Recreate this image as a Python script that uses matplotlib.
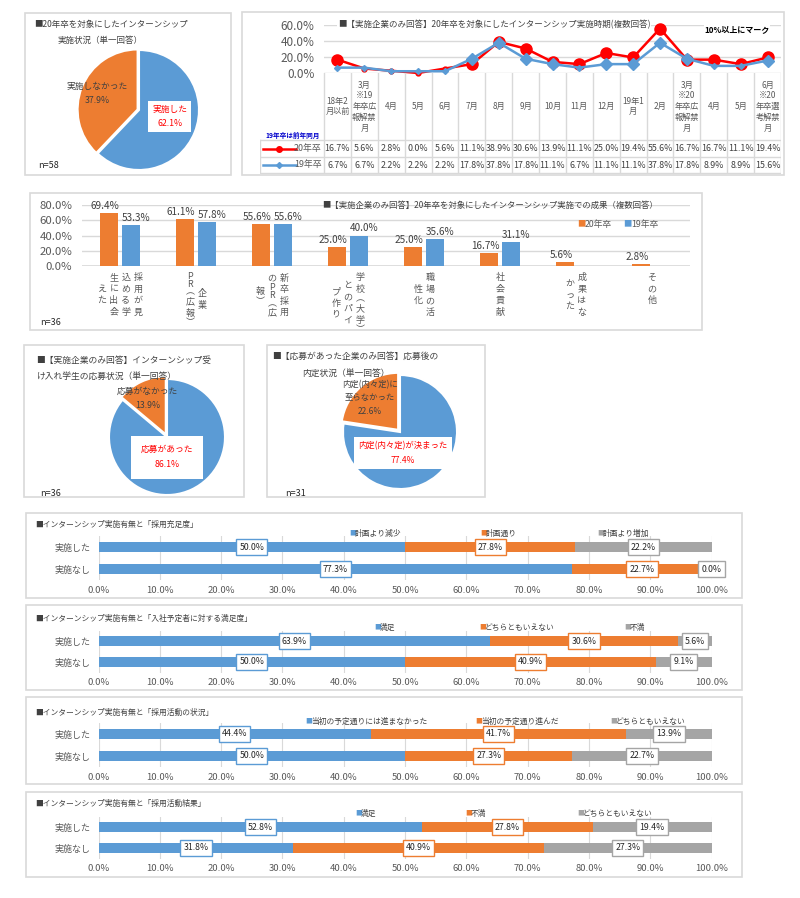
import matplotlib
matplotlib.use('Agg')
import matplotlib.pyplot as plt
from matplotlib.patches import Rectangle
from matplotlib.lines import Line2D
import numpy as np

plt.rcParams['font.family'] = ['Noto Sans CJK JP', 'DejaVu Sans']

# ---------------- data ----------------
pie1_labels = ['実施した', '実施しなかった']
pie1_values = [62.1, 37.9]

months = ['18年2\n月以前', '3月\n※19\n年卒広\n報解禁\n月', '4月', '5月', '6月', '7月', '8月', '9月',
          '10月', '11月', '12月', '19年1\n月', '2月', '3月\n※20\n年卒広\n報解禁\n月', '4月', '5月',
          '6月\n※20\n年卒選\n考解禁\n月']
timing20 = [16.7, 5.6, 2.8, 0.0, 5.6, 11.1, 38.9, 30.6, 13.9, 11.1, 25.0, 19.4, 55.6, 16.7, 16.7, 11.1, 19.4]
timing19 = [6.7, 6.7, 2.2, 2.2, 2.2, 17.8, 37.8, 17.8, 11.1, 6.7, 11.1, 11.1, 37.8, 17.8, 8.9, 8.9, 15.6]
series_names = ['20年卒', '19年卒']

outcome_labels = [['採用が見', '込める学', '生に出会', 'えた'],
                  ['企業', 'PR︵広報︶'],
                  ['新卒採用', 'のPR︵広', '報︶'],
                  ['学校︵大学︶', 'とのパイ', 'プ作り'],
                  ['職場の活', '性化'],
                  ['社会貢献'],
                  ['成果はな', 'かった'],
                  ['その他']]
outcome20 = [69.4, 61.1, 55.6, 25.0, 25.0, 16.7, 5.6, 2.8]
outcome19 = [53.3, 57.8, 55.6, 40.0, 35.6, 31.1, np.nan, np.nan]

pie2_labels = ['応募があった', '応募がなかった']
pie2_values = [86.1, 13.9]
pie3_labels = ['内定(内々定)が決まった', '内定(内々定)に\n至らなかった']
pie3_values = [77.4, 22.6]

row_labels = ['実施した', '実施なし']
s1_title = '■インターンシップ実施有無と「採用充足度」'
s1_series = ['計画より減少', '計画通り', '計画より増加']
s1_done = [50.0, 27.8, 22.2]
s1_none = [77.3, 22.7, 0.0]
s2_title = '■インターンシップ実施有無と「入社予定者に対する満足度」'
s2_series = ['満足', 'どちらともいえない', '不満']
s2_done = [63.9, 30.6, 5.6]
s2_none = [50.0, 40.9, 9.1]
s3_title = '■インターンシップ実施有無と「採用活動の状況」'
s3_series = ['当初の予定通りには進まなかった', '当初の予定通り進んだ', 'どちらともいえない']
s3_done = [44.4, 41.7, 13.9]
s3_none = [50.0, 27.3, 22.7]
s4_title = '■インターンシップ実施有無と「採用活動結果」'
s4_series = ['満足', '不満', 'どちらともいえない']
s4_done = [52.8, 27.8, 19.4]
s4_none = [31.8, 40.9, 27.3]

# ---------------- style ----------------
BLUE = '#5B9BD5'
ORANGE = '#ED7D31'
GRAY = '#A5A5A5'
RED = '#FF0000'
TXT = '#595959'
DARK = '#404040'
GRID = '#D9D9D9'

W, H = 800, 898
fig = plt.figure(figsize=(W / 100, H / 100), dpi=100)
fig.patch.set_facecolor('white')


def box(x0, y0, x1, y1):
    return [x0 / W, 1 - y1 / H, (x1 - x0) / W, (y1 - y0) / H]


def ftext(x, y, s, **kw):
    kw.setdefault('va', 'center')
    return fig.text(x / W, 1 - y / H, s, **kw)


def panel(x0, y0, x1, y1):
    fig.add_artist(Rectangle((x0 / W, 1 - y1 / H), (x1 - x0) / W, (y1 - y0) / H,
                             transform=fig.transFigure, fill=False, ec=GRID, lw=1.2, zorder=0))


# ---------------- pie helper ----------------
def draw_pie(cx, cy, r, values, explode_o):
    half = r * 1.1
    ax = fig.add_axes(box(cx - half, cy - half, cx + half, cy + half))
    ax.pie(values, colors=[BLUE, ORANGE], startangle=90, counterclock=False,
           explode=[0, explode_o], wedgeprops=dict(edgecolor='white', linewidth=1.5))
    ax.set_xlim(-1.1, 1.1)
    ax.set_ylim(-1.1, 1.1)
    ax.set_aspect('equal')
    ax.axis('off')
    return ax


# ======== Panel 1: pie ========
panel(25, 13, 231, 175)
ftext(34, 24, '■20年卒を対象にしたインターンシップ', fontsize=6.1, color=DARK)
ftext(58, 40, '実施状況（単一回答）', fontsize=6.1, color=DARK)
ax = draw_pie(139, 110, 60, pie1_values, 0.025)
ax.text(-0.70, 0.28, f'{pie1_labels[1]}\n{pie1_values[1]:.1f}%', ha='center', va='center',
        fontsize=6.3, color=DARK, linespacing=1.7)
ax.text(0.51, -0.11, f'{pie1_labels[0]}\n{pie1_values[0]:.1f}%', ha='center', va='center',
        fontsize=6.3, color=RED, linespacing=1.7,
        bbox=dict(boxstyle='square,pad=0.45', fc='white', ec='none'))
ftext(38, 166, 'n=58', fontsize=6.5, color='#262626')

# ======== Panel 2: line + table ========
panel(242, 12, 784, 175)
col_w = (781 - 324) / 17.0
axl = fig.add_axes(box(324, 25, 781, 73))
xs = np.arange(len(months))
axl.set_xlim(-0.5, 16.5)
axl.set_ylim(0, 60)
axl.set_yticks([0, 20, 40, 60])
axl.set_yticklabels([f'{v:.1f}%' for v in [0, 20, 40, 60]])
axl.tick_params(axis='y', length=0, pad=7, labelsize=8.5, labelcolor=TXT)
axl.set_xticks([])
axl.grid(axis='y', color=GRID, lw=1)
axl.set_axisbelow(True)
for s in axl.spines.values():
    s.set_visible(False)
t20 = np.array(timing20)
t19 = np.array(timing19)
axl.plot(xs, t20, color=RED, lw=1.8, clip_on=False, zorder=3)
axl.plot(xs[t20 >= 10], t20[t20 >= 10], 'o', color=RED, ms=8, clip_on=False, zorder=4)
axl.plot(xs[t20 < 10], t20[t20 < 10], 'o', color=RED, ms=3.5, clip_on=False, zorder=4)
axl.plot(xs, t19, color=BLUE, lw=1.8, clip_on=False, zorder=5)
axl.plot(xs[t19 >= 10], t19[t19 >= 10], 'D', color=BLUE, ms=6.5, clip_on=False, zorder=6)
axl.plot(xs[t19 < 10], t19[t19 < 10], 'D', color=BLUE, ms=3, clip_on=False, zorder=6)
axl.text(0.03, 1.0, '■【実施企業のみ回答】20年卒を対象にしたインターンシップ実施時期(複数回答)',
         transform=axl.transAxes, fontsize=6.1, color=DARK, va='center', ha='left',
         bbox=dict(boxstyle='square,pad=0.1', fc='white', ec='none'), zorder=2)
axl.text(0.975, 0.9, '10%以上にマーク', transform=axl.transAxes, fontsize=5.8,
         color='black', fontweight='bold', va='center', ha='right',
         bbox=dict(boxstyle='square,pad=0.1', fc='white', ec='none'), zorder=2)

# table
left_units = (324 - 260) / col_w
axt = fig.add_axes(box(260, 73, 781, 174))
axt.set_xlim(-0.5 - left_units, 16.5)
axt.set_ylim(174, 73)
axt.axis('off')
xl = -0.5 - left_units
for b in np.arange(-0.5, 17.0, 1.0):
    axt.plot([b, b], [73, 173], color=GRID, lw=1)
axt.plot([xl, xl], [140, 173], color=GRID, lw=1)
for yy in [140, 156.5, 173]:
    axt.plot([xl, 16.5], [yy, yy], color=GRID, lw=1)
for i, m in enumerate(months):
    axt.text(i, 106.5, m, ha='center', va='center', fontsize=5.9, color=TXT, linespacing=1.25)
for i in range(len(months)):
    axt.text(i, 148.5, f'{timing20[i]:.1f}%', ha='center', va='center', fontsize=6.4, color=DARK)
    axt.text(i, 165, f'{timing19[i]:.1f}%', ha='center', va='center', fontsize=6.4, color=DARK)
lx0, lx1 = xl + 0.12, -1.55
axt.add_line(Line2D([lx0, lx1], [148.5, 148.5], color=RED, lw=1.8))
axt.plot([(lx0 + lx1) / 2], [148.5], 'o', color=RED, ms=4)
axt.add_line(Line2D([lx0, lx1], [165, 165], color=BLUE, lw=1.8))
axt.plot([(lx0 + lx1) / 2], [165], 'D', color=BLUE, ms=3)
axt.text(-0.58, 148.5, series_names[0], ha='right', va='center', fontsize=6.4, color=TXT)
axt.text(-0.58, 165, series_names[1], ha='right', va='center', fontsize=6.4, color=TXT)
axt.text((xl - 0.5) / 2 + 0.02, 135, '19年卒は前年同月', ha='center', va='center', fontsize=4.8,
         color='#0000CC', fontweight='bold')

# ======== Panel 3: grouped bar ========
panel(30, 193, 702, 330)
axb = fig.add_axes(box(82, 205, 690, 266))
xc = np.arange(len(outcome20))
bw = 0.24
o19 = np.array(outcome19)
axb.bar(xc - 0.14, outcome20, bw, color=ORANGE, zorder=3)
axb.bar(xc + 0.14, np.nan_to_num(o19), bw, color=BLUE, zorder=3)
axb.set_xlim(-0.5, 7.5)
axb.set_ylim(0, 80)
axb.set_yticks([0, 20, 40, 60, 80])
axb.set_yticklabels([f'{v:.1f}%' for v in [0, 20, 40, 60, 80]])
axb.tick_params(axis='y', length=0, pad=7, labelsize=8.2, labelcolor=TXT)
axb.set_xticks([])
axb.grid(axis='y', color=GRID, lw=1)
axb.set_axisbelow(True)
for s in axb.spines.values():
    s.set_visible(False)
axb.axhline(0, color=GRID, lw=1.2, zorder=2)
for i in range(len(xc)):
    axb.annotate(f'{outcome20[i]:.1f}%', (xc[i] - 0.14, outcome20[i]), xytext=(-3, 1.5),
                 textcoords='offset points', ha='center', va='bottom', fontsize=7.2, color=DARK)
    if not np.isnan(o19[i]):
        axb.annotate(f'{o19[i]:.1f}%', (xc[i] + 0.14, o19[i]), xytext=(3.8, 1.5),
                     textcoords='offset points', ha='center', va='bottom', fontsize=7.2, color=DARK)


def vlabel(ax, xi, cols, top_px=6.0, pf=11.5, ph=8.0, gap=12.0):
    def hh(c):
        return ph if (ord(c) < 128 or c in '︵︶') else pf
    heights = [sum(hh(c) for c in col) for col in cols]
    block = max(heights)
    n = len(cols)
    for j, col in enumerate(cols):
        dx = ((n - 1) / 2.0 - j) * gap
        y = top_px + (block - heights[j]) / 2.0
        for c in col:
            h = hh(c)
            cy = y + h / 2.0
            ax.annotate(c, xy=(xi, 0), xycoords=('data', 'axes fraction'),
                        xytext=(dx * 0.72, -cy * 0.72), textcoords='offset points',
                        ha='center', va='center', fontsize=6.5, color=TXT, annotation_clip=False)
            y += h


for i, cols in enumerate(outcome_labels):
    vlabel(axb, xc[i], cols)
ftext(322, 205, '■【実施企業のみ回答】20年卒を対象にしたインターンシップ実施での成果（複数回答）',
      fontsize=6.0, color=DARK)
ftext(577, 224, '■', fontsize=6, color=ORANGE)
ftext(585, 224, series_names[0], fontsize=6.3, color=TXT)
ftext(623, 224, '■', fontsize=6, color=BLUE)
ftext(631, 224, series_names[1], fontsize=6.3, color=TXT)
ftext(40, 322, 'n=36', fontsize=6.5, color='#262626')

# ======== Panel 4: pie 2 ========
panel(24, 345, 244, 497)
ftext(36, 360, '■【実施企業のみ回答】インターンシップ受', fontsize=6.3, color=DARK)
ftext(37, 376, 'け入れ学生の応募状況（単一回答）', fontsize=6.3, color=DARK)
ax = draw_pie(167, 437, 58, pie2_values, 0.05)
ax.text(-0.33, 0.67, f'{pie2_labels[1]}\n{pie2_values[1]:.1f}%', ha='center', va='center',
        fontsize=6.3, color=DARK, linespacing=1.7)
ax.text(0.0, -0.35, f'{pie2_labels[0]}\n{pie2_values[0]:.1f}%', ha='center', va='center',
        fontsize=6.3, color=RED, linespacing=1.9,
        bbox=dict(boxstyle='square,pad=1.1', fc='white', ec='none'))
ftext(40, 493, 'n=36', fontsize=6.5, color='#262626')

# ======== Panel 5: pie 3 ========
panel(267, 345, 485, 497)
ftext(272, 356, '■【応募があった企業のみ回答】応募後の', fontsize=6.3, color=DARK)
ftext(302, 373, '内定状況（単一回答）', fontsize=6.3, color=DARK)
ax = draw_pie(400, 432, 57, pie3_values, 0.05)
ax.text(-0.53, 0.60, f'{pie3_labels[1]}\n{pie3_values[1]:.1f}%', ha='center', va='center',
        fontsize=6.0, color=DARK, linespacing=1.6)
ax.text(0.05, -0.37, f'{pie3_labels[0]}\n{pie3_values[0]:.1f}%', ha='center', va='center',
        fontsize=6.0, color=RED, linespacing=1.7,
        bbox=dict(boxstyle='square,pad=0.5', fc='white', ec='none'))
ftext(285, 493, 'n=31', fontsize=6.5, color='#262626')


# ======== Stacked bar panels ========
def stacked(pbox, title, title_y, series, done, none, ax_y0, ax_y1, leg_y, leg_x):
    panel(*pbox)
    ftext(35, title_y, title, fontsize=5.6, color=DARK)
    ax = fig.add_axes(box(98.5, ax_y0, 711.5, ax_y1))
    colors = [BLUE, ORANGE, GRAY]
    data = np.array([done, none])
    left = np.zeros(2)
    ys = np.arange(2)
    for k in range(3):
        ax.barh(ys, data[:, k], 0.44, left=left, color=colors[k], zorder=3)
        for r in range(2):
            ax.text(left[r] + data[r, k] / 2, ys[r], f'{data[r, k]:.1f}%', ha='center', va='center',
                    fontsize=6.3, color='#262626', zorder=5, clip_on=False,
                    bbox=dict(boxstyle='square,pad=0.35', fc='white', ec=colors[k], lw=1))
        left = left + data[:, k]
    ax.set_xlim(0, 100)
    ax.set_ylim(1.5, -0.5)
    ax.set_yticks(ys)
    ax.set_yticklabels(row_labels)
    ax.set_xticks(np.arange(0, 101, 10))
    ax.set_xticklabels([f'{v:.1f}%' for v in np.arange(0, 101, 10)])
    ax.tick_params(axis='x', length=0, pad=4, labelsize=6.8, labelcolor=TXT)
    ax.tick_params(axis='y', length=0, pad=6, labelsize=6.5, labelcolor=TXT)
    ax.grid(axis='x', color=GRID, lw=0.8)
    ax.set_axisbelow(True)
    for s in ax.spines.values():
        s.set_visible(False)
    for k in range(3):
        ftext(leg_x[k], leg_y, '■', fontsize=5, color=colors[k])
        ftext(leg_x[k] + 6, leg_y + 1, series[k], fontsize=5.6, color=DARK)


stacked((26, 513, 742, 598), s1_title, 525, s1_series, s1_done, s1_none, 536, 580, 533, [349, 480, 597])
stacked((26, 605, 742, 690), s2_title, 619, s2_series, s2_done, s2_none, 630.5, 672.5, 627, [374, 479, 624])
stacked((26, 697, 742, 784), s3_title, 713, s3_series, s3_done, s3_none, 723, 767, 721, [305, 475, 610])
stacked((26, 792, 742, 877), s4_title, 804, s4_series, s4_done, s4_none, 816.5, 858.5, 813, [355, 465, 577])

fig.savefig('out.png', dpi=100, facecolor='white')
